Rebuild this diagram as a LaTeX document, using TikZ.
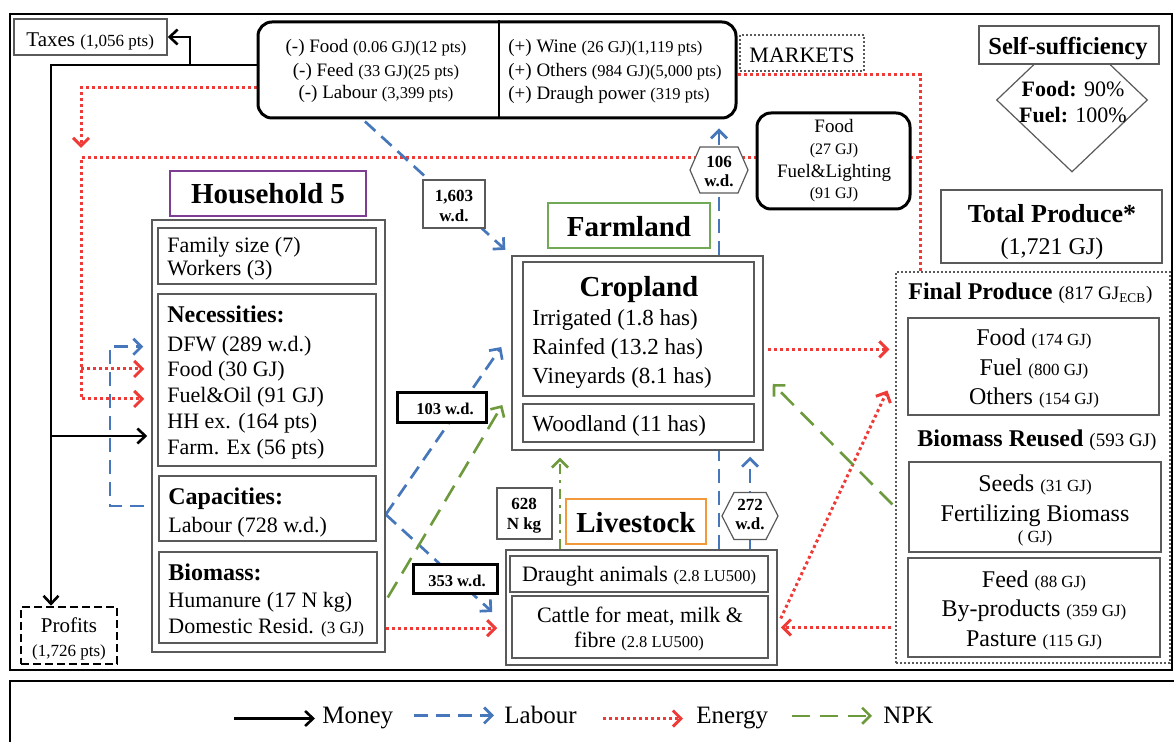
\documentclass[tikz,border=0pt]{standalone}
\usepackage{fontspec}
\setmainfont{Liberation Serif}
\usetikzlibrary{arrows.meta,fit,calc,shapes.geometric}

\definecolor{labblue}{HTML}{4677BA}
\definecolor{enred}{HTML}{EE3B37}
\definecolor{npkgreen}{HTML}{6C9A3C}
\definecolor{hhpurple}{HTML}{7D3E93}
\definecolor{flgreen}{HTML}{72A957}
\definecolor{lsorange}{HTML}{F29A3B}
\definecolor{edgegray}{HTML}{5A5A5A}

\pgfdeclarelayer{bg}
\pgfsetlayers{bg,main}

\newcommand\Sz[2]{\fontsize{#1}{#2}\selectfont}
\newcommand\Paren[1]{{\fontsize{8.5}{10}\selectfont #1}}
\newcommand\ParenM[1]{{\fontsize{8.25}{10}\selectfont #1}}
\newcommand\ParenL[1]{{\fontsize{9.5}{11}\selectfont #1}}

\tikzset{
  frame/.style={draw=black,line width=1.25pt,inner sep=0pt},
  box/.style={draw=edgegray,line width=0.75pt,inner sep=0pt,fill=white},
  thickbox/.style={draw=black,line width=1.5pt,inner sep=0pt,fill=white},
  rbox/.style={draw=black,line width=1.5pt,rounded corners=7pt,inner sep=0pt,fill=white},
  dotbox/.style={draw=edgegray,line width=0.6pt,dash pattern=on 1pt off 1pt,inner sep=0pt,fill=white},
  hexa/.style={draw=edgegray,line width=0.6pt,fill=white},
  tl/.style={inner sep=0pt,anchor=base west},
  tc/.style={inner sep=0pt,anchor=base},
  money/.style={draw=black,line width=1.3pt,-{Straight Barb[length=4pt,width=7.5pt]}},
  labour/.style={draw=labblue,line width=1.35pt,dash pattern=on 7pt off 4pt,-{Straight Barb[length=4pt,width=8pt]}},
  energy/.style={draw=enred,line width=1.5pt,dash pattern=on 1.5pt off 1.5pt,-{Straight Barb[length=4pt,width=8pt]}},
  npk/.style={draw=npkgreen,line width=1.3pt,dash pattern=on 9pt off 5pt,-{Straight Barb[length=4pt,width=8pt]}},
  npkdd/.style={npk,dash pattern=on 5pt off 3pt on 1.5pt off 3pt},
}

\begin{document}
\begin{tikzpicture}[x=0.5pt,y=-0.5pt]
\useasboundingbox (0,0) rectangle (1174,742);
\clip (0,0) rectangle (1174,742);

% ---------- frames ----------
\node[frame,fit={(10,14)(1172,670)}] (mainframe) {};
\node[frame,fit={(10,681)(1200,780)}] (legendframe) {};

% ---------- top row ----------
\node[box,fit={(14,19)(167,55)}] (taxes) {};
\node[tl,font=\Sz{10.5}{12}] (taxestxt) at (26,47) {Taxes \Paren{(1,056 pts)}};

\node[rbox,fit={(258,22)(736,118)}] (mkt) {};
\draw[line width=1pt] (mkt.north -| 499,0) -- (mkt.south -| 499,0);
\node[tc,font=\Sz{9.5}{11}] (buyfood) at (376,53) {(-) Food \ParenM{(0.06 GJ)(12 pts)}};
\node[tc,font=\Sz{9.5}{11}] (buyfeed) at (376,77) {(-) Feed \ParenM{(33 GJ)(25 pts)}};
\node[tc,font=\Sz{9.5}{11}] (buylab) at (376,99) {(-) Labour \ParenM{(3,399 pts)}};
\node[tl,font=\Sz{9.5}{11}] (sellwine) at (508,53) {(+) Wine \ParenM{(26 GJ)(1,119 pts)}};
\node[tl,font=\Sz{9.5}{11}] (sellother) at (508,77) {(+) Others \ParenM{(984 GJ)(5,000 pts)}};
\node[tl,font=\Sz{9.5}{11}] (selldp) at (508,100) {(+) Draugh power \ParenM{(319 pts)}};

\node[dotbox,fit={(740,35)(864,71)}] (mktlabel) {};
\node[tc,font=\Sz{11}{13}] (mkttxt) at (802,63) {MARKETS};

\node[rbox,fit={(757,113)(910,209)}] (fuell) {};
\node[tc,font=\Sz{9.5}{11}] (flfood) at (834,133) {Food};
\node[tc,font=\Sz{8}{10}] (flfoodv) at (834,155) {(27 GJ)};
\node[tc,font=\Sz{9.5}{11}] (flfuel) at (834,178) {Fuel\&Lighting};
\node[tc,font=\Sz{8}{10}] (flfuelv) at (834,199) {(91 GJ)};

\node[diamond,draw=edgegray,line width=0.6pt,fill=white,minimum width=75.5pt,minimum height=72pt,inner sep=0pt] (ssd) at (1072,100) {};
\node[box,fit={(979,26)(1159,64)}] (ssbox) {};
\node[tc,font=\Sz{12.25}{14}\bfseries] (sstitle) at (1068,55) {Self-sufficiency};
\node[tc,font=\Sz{11}{13}] (ssfood) at (1073,97) {\textbf{Food:} 90\%};
\node[tc,font=\Sz{11}{13}] (ssfuel) at (1073,123) {\textbf{Fuel:} 100\%};

\node[box,fit={(941,190)(1162,263)}] (total) {};
\node[tc,font=\Sz{13}{15}\bfseries] (totaltitle) at (1052,223) {Total Produce*};
\node[tc,font=\Sz{12}{14}] (totalval) at (1052,255) {(1,721 GJ)};

% ---------- final produce ----------
\node[dotbox,fit={(896,272)(1170,663)}] (fp) {};
\node[tl,font=\Sz{12}{14}] (fptitle) at (908,300) {\textbf{Final Produce} \ParenL{(817 GJ\textsubscript{ECB})}};
\node[box,fit={(908,318)(1159,415)}] (fpA) {};
\node[tc,font=\Sz{12}{14}] (fpfood) at (1034,346) {Food \Paren{(174 GJ)}};
\node[tc,font=\Sz{12}{14}] (fpfuel) at (1034,376) {Fuel \Paren{(800 GJ)}};
\node[tc,font=\Sz{12}{14}] (fpother) at (1034,405) {Others \Paren{(154 GJ)}};
\node[tl,font=\Sz{12}{14}] (brtitle) at (917,447) {\textbf{Biomass Reused} \ParenL{(593 GJ)}};
\node[box,fit={(909,462)(1161,552)}] (fpB) {};
\node[tc,font=\Sz{12}{14}] (fpseed) at (1035,492) {Seeds \Paren{(31 GJ)}};
\node[tc,font=\Sz{12}{14}] (fpfert) at (1035,522) {Fertilizing Biomass};
\node[tc,font=\Sz{8.5}{10}] (fpfertv) at (1035,543) {( GJ)};
\node[box,fit={(908,558)(1160,657)}] (fpC) {};
\node[tc,font=\Sz{12}{14}] (fpfeed) at (1034,588) {Feed \Paren{(88 GJ)}};
\node[tc,font=\Sz{12}{14}] (fpbyp) at (1034,617) {By-products \Paren{(359 GJ)}};
\node[tc,font=\Sz{12}{14}] (fppast) at (1034,647) {Pasture \Paren{(115 GJ)}};

% ---------- household ----------
\node[draw=hhpurple,line width=1.2pt,inner sep=0pt,fill=white,fit={(170,171)(366,216)}] (hhlabel) {};
\node[tc,font=\Sz{14.5}{17}\bfseries] (hhtitle) at (268,204) {Household 5};
\node[box,fit={(152,220)(385,652)}] (hh) {};
\node[box,fit={(158,228)(376,284)}] (hhfam) {};
\node[tl,font=\Sz{11}{13}] (tfam) at (167,253) {Family size (7)};
\node[tl,font=\Sz{11}{13}] (twork) at (167,276) {Workers (3)};
\node[box,fit={(158,294)(376,466)}] (hhnec) {};
\node[tl,font=\Sz{12}{14}\bfseries] (tnec) at (167,323) {Necessities:};
\node[tl,font=\Sz{11}{13}] (tdfw) at (167,352) {DFW (289 w.d.)};
\node[tl,font=\Sz{11}{13}] (thfood) at (167,377) {Food (30 GJ)};
\node[tl,font=\Sz{11}{13}] (thfuel) at (167,403) {Fuel\&Oil (91 GJ)};
\node[tl,font=\Sz{11}{13}] (thhex) at (167,429) {HH ex. (164 pts)};
\node[tl,font=\Sz{11}{13}] (tfarmex) at (167,455) {Farm. Ex (56 pts)};
\node[box,fit={(159,476)(376,541)}] (hhcap) {};
\node[tl,font=\Sz{12}{14}\bfseries] (tcap) at (168,505) {Capacities:};
\node[tl,font=\Sz{11}{13}] (tlab) at (168,533) {Labour (728 w.d.)};
\node[box,fit={(159,552)(377,643)}] (hhbio) {};
\node[tl,font=\Sz{12}{14}\bfseries] (tbio) at (168,581) {Biomass:};
\node[tl,font=\Sz{11}{13}] (thum) at (168,608) {Humanure (17 N kg)};
\node[tl,font=\Sz{11}{13}] (tdom) at (168,634) {Domestic Resid. \Paren{(3 GJ)}};

\node[draw=black,line width=1.3pt,dash pattern=on 4pt off 2pt,inner sep=0pt,fill=white,fit={(21,607)(117,664)}] (prof) {};
\node[tc,font=\Sz{10.5}{12}] (proftxt) at (69,633) {Profits};
\node[tc,font=\Sz{8.5}{10}] (profval) at (69,657) {(1,726 pts)};

% ---------- farmland ----------
\node[draw=flgreen,line width=1.2pt,inner sep=0pt,fill=white,fit={(548,203)(710,248)}] (farmlabel) {};
\node[tc,font=\Sz{14.5}{17}\bfseries] (farmtitle) at (629,237) {Farmland};
\node[box,fit={(512,256)(763,450)}] (farm) {};
\node[box,fit={(523,262)(754,396)}] (crop) {};
\node[tc,font=\Sz{14.5}{17}\bfseries] (croptitle) at (639,297) {Cropland};
\node[tl,font=\Sz{11.5}{14}] (tirr) at (532,326) {Irrigated (1.8 has)};
\node[tl,font=\Sz{11.5}{14}] (train) at (532,355) {Rainfed (13.2 has)};
\node[tl,font=\Sz{11.5}{14}] (tvine) at (532,384) {Vineyards (8.1 has)};
\node[box,fit={(523,404)(754,442)}] (wood) {};
\node[tl,font=\Sz{11.5}{14}] (twood) at (532,432) {Woodland (11 has)};

% ---------- livestock ----------
\node[draw=lsorange,line width=1.2pt,inner sep=0pt,fill=white,fit={(566,499)(706,544)}] (lslabel) {};
\node[tc,font=\Sz{14.5}{17}\bfseries] (lstitle) at (636,533) {Livestock};
\node[box,fit={(506,550)(777,665)}] (ls) {};
\node[box,fit={(510,556)(768,592)}] (draught) {};
\node[tc,font=\Sz{11}{13}] (tdraught) at (639,582) {Draught animals \ParenM{(2.8 LU500)}};
\node[box,fit={(512,596)(768,658)}] (cattle) {};
\node[tc,font=\Sz{11}{13}] (tcattle) at (640,623) {Cattle for meat, milk \&};
\node[tc,font=\Sz{11}{13}] (tfibre) at (639,648) {fibre \ParenM{(2.8 LU500)}};

% ---------- connectors ----------
\coordinate (mjoin) at (51,65);
\coordinate (tjoin) at (190,65);
\coordinate (ejoin) at (81,158);
\coordinate (efood) at (81,369);
\coordinate (efuel) at (81,399);
\coordinate (eright) at (920,158);
\coordinate (etop) at (920,75);
\coordinate (lbjoin) at (110,506);
\coordinate (npkup) at (560,500);
\coordinate (feedin) at ($(ls.east)+(0,20)$);
\coordinate (capout) at ($(hh.east |- hhcap.center)+(0,6)$);

% connector labels (drawn above the lines)
\node[box,fit={(423,180)(485,228)}] (l1603) {};
\node[tc,font=\Sz{8.5}{10}\bfseries] (l1603a) at (454,202) {1,603};
\node[tc,font=\Sz{8.5}{10}\bfseries] (l1603b) at (454,222) {w.d.};
\node[thickbox,fit={(397,393)(486,423)}] (l103) {};
\node[tc,font=\Sz{8.25}{10}\bfseries] (l103t) at (445,415) {103 w.d.};
\node[box,fit={(497,488)(552,539)}] (l628) {};
\node[tc,font=\Sz{8.5}{10}\bfseries] (l628a) at (524,510) {628};
\node[tc,font=\Sz{8.5}{10}\bfseries] (l628b) at (524,530) {N kg};
\node[thickbox,fit={(413,565)(497,594)}] (l353) {};
\node[tc,font=\Sz{8.25}{10}\bfseries] (l353t) at (457,587) {353 w.d.};

\coordinate (h106) at (719,170);
\draw[hexa] ($(h106)+(-29,0)$) -- ($(h106)+(-19,-23)$) -- ($(h106)+(19,-23)$) -- ($(h106)+(29,0)$) -- ($(h106)+(19,23)$) -- ($(h106)+(-19,23)$) -- cycle;
\node[tc,font=\Sz{8.5}{10}\bfseries] (h106a) at (719,168) {106};
\node[tc,font=\Sz{8.5}{10}\bfseries] (h106b) at (719,187) {w.d.};
\coordinate (h272) at (750,516);
\draw[hexa] ($(h272)+(-28,0)$) -- ($(h272)+(-16,-23.5)$) -- ($(h272)+(16,-23.5)$) -- ($(h272)+(28,0)$) -- ($(h272)+(16,23.5)$) -- ($(h272)+(-16,23.5)$) -- cycle;
\node[tc,font=\Sz{8.5}{10}\bfseries] (h272a) at (750,511) {272};
\node[tc,font=\Sz{8.5}{10}\bfseries] (h272b) at (750,530) {w.d.};

\begin{pgfonlayer}{bg}
  % money
  \draw[money] ($(mkt.west)+(0,-5)$) -- (mjoin) -- (mjoin |- prof.north);
  \draw[money] (tjoin) |- (taxes.east);
  \draw[money,shorten >=2pt] (mjoin |- hh.west) -- (hh.west);
  % energy
  \draw[energy] ($(mkt.west)+(0,18)$) -| ($(ejoin)+(0,-10)$);
  \draw[energy,-] ($(mkt.east)+(0,5)$) -- (etop) -- (eright);
  \draw[energy,shorten >=3.5pt] (fp.north -| eright) -- (eright) -- (ejoin) -- (efuel) -- (efuel -| hh.west);
  \draw[energy,shorten >=3.5pt] (efood) -- (efood -| hh.west);
  \draw[energy,shorten >=4pt] (hh.east |- tdom) -- (ls.west |- tdom);
  \draw[energy,shorten <=2pt,shorten >=3pt] (farm.east |- train) -- (fp.west |- train);
  \draw[energy,shorten <=2pt,shorten >=1.5pt] (feedin -| fp.west) -- (feedin);
  \draw[energy] ($(ls.east)+(3,11)$) -- ($(fp.west)+(-8,-77)$);
  % labour
  \draw[labour,shorten >=4pt] ($(mkt.south)+(-132,2)$) -- (farm.north west);
  \draw[labour,shorten >=4.5pt] (farm.north -| h106) -- (mkt.south -| h106);
  \draw[labour,-] (ls.north -| h106) -- (farm.south -| h106);
  \draw[labour,shorten >=3pt] (ls.north -| h272) -- (farm.south -| h272);
  \draw[labour] (capout) -- ($(crop.west)+(-21,18)$);
  \draw[labour] (capout) -- ($(cattle.west)+(-19,-15)$);
  \draw[labour,shorten <=3.5pt,shorten >=4pt] (hh.west |- lbjoin) -- (lbjoin) -- (lbjoin |- tdfw) -- (tdfw -| hh.west);
  % NPK
  \draw[npk] ($(hh.east |- hhbio.center)+(2,0)$) -- ($(wood.west)+(-20,-18)$);
  \draw[npk] ($(fp.west)+(-3,37)$) -- ($(crop.east)+(18,55)$);
  \draw[npkdd,shorten >=3.5pt] (ls.north -| npkup) -- (farm.south -| npkup);
\end{pgfonlayer}

% ---------- legend ----------
\node[tl,font=\Sz{12.5}{14}] (lgmoney) at (322,724) {Money};
\node[tl,font=\Sz{12.5}{14}] (lglabour) at (504,724) {Labour};
\node[tl,font=\Sz{12.5}{14}] (lgenergy) at (696,724) {Energy};
\node[tl,font=\Sz{12.5}{14}] (lgnpk) at (883,724) {NPK};
\draw[money] ($(lgmoney.west)+(-88,0)$) -- ($(lgmoney.west)+(-7,0)$);
\draw[labour] ($(lglabour.west)+(-90,0)$) -- ($(lglabour.west)+(-10,0)$);
\draw[energy] ($(lgenergy.west)+(-93,0)$) -- ($(lgenergy.west)+(-13,0)$);
\draw[npk] ($(lgnpk.west)+(-91,0)$) -- ($(lgnpk.west)+(-11,0)$);
\end{tikzpicture}
\end{document}
